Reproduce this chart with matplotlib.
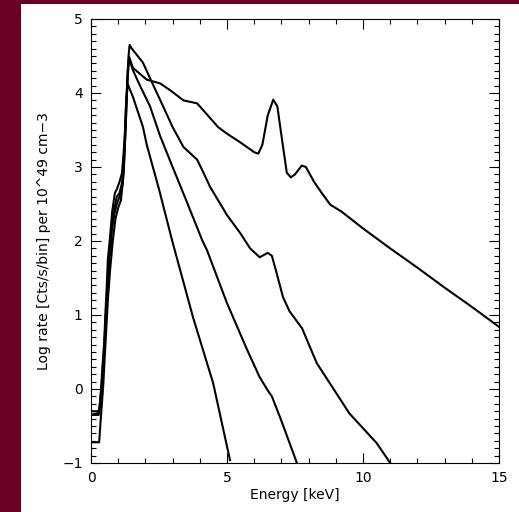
import matplotlib
matplotlib.use("Agg")
import matplotlib.pyplot as plt
from matplotlib.patches import Rectangle
from matplotlib.ticker import MultipleLocator

# ---- data ----
energy_a = [0.0, 0.28, 0.32, 0.38, 0.42, 0.48, 0.52, 0.58, 0.62, 0.7, 0.78, 0.88, 0.95, 1.05, 1.14, 1.2, 1.25, 1.3, 1.35, 1.4,
            1.54, 2.05, 2.54, 2.9, 3.4, 3.9, 4.12, 4.67, 5.0, 5.5, 6.0, 6.15, 6.3, 6.5, 6.7, 6.85, 7.05, 7.2,
            7.35, 7.5, 7.75, 7.9, 8.2, 8.5, 8.8, 9.2, 10.0, 11.0, 12.0, 13.0, 14.0, 15.0]
rate_a = [-0.35, -0.35, -0.25, -0.05, 0.2, 0.55, 0.95, 1.4, 1.75, 2.05, 2.4, 2.65, 2.7, 2.8, 2.92, 3.2, 3.46, 3.9, 4.3, 4.49,
          4.34, 4.18, 4.13, 4.04, 3.9, 3.86, 3.77, 3.54, 3.45, 3.33, 3.2, 3.18, 3.3, 3.7, 3.91, 3.82, 3.3, 2.92,
          2.86, 2.9, 3.02, 3.0, 2.8, 2.64, 2.49, 2.40, 2.17, 1.9, 1.64, 1.37, 1.11, 0.84]

energy_b = [0.0, 0.3, 0.35, 0.42, 0.48, 0.55, 0.6, 0.68, 0.75, 0.85, 0.95, 1.05, 1.15, 1.22, 1.28, 1.33, 1.38, 1.42,
            1.5, 1.91, 2.17, 2.6, 3.0, 3.4, 3.9, 4.1, 4.38, 5.0, 5.5, 5.85, 6.2, 6.5, 6.65, 6.8, 7.06,
            7.3, 7.76, 8.3, 9.5, 10.5, 11.0]
rate_b = [-0.35, -0.32, -0.1, 0.1, 0.45, 0.9, 1.3, 1.75, 2.1, 2.35, 2.5, 2.6, 2.75, 3.1, 3.6, 4.1, 4.5, 4.65,
          4.6, 4.41, 4.2, 3.86, 3.54, 3.27, 3.1, 2.95, 2.73, 2.35, 2.1, 1.9, 1.78, 1.84, 1.8, 1.6, 1.24,
          1.05, 0.82, 0.35, -0.33, -0.73, -1.0]

energy_c = [0.0, 0.3, 0.35, 0.4, 0.45, 0.5, 0.56, 0.62, 0.7, 0.8, 0.9, 1.0, 1.1, 1.2, 1.27, 1.33, 1.4,
            1.55, 1.8, 2.17, 2.54, 3.0, 3.5, 4.1, 4.26, 5.0, 5.74, 6.2, 6.5, 6.65, 7.0, 7.57]
rate_c = [-0.72, -0.72, -0.45, -0.2, 0.05, 0.4, 0.8, 1.2, 1.6, 2.0, 2.3, 2.45, 2.55, 2.9, 3.5, 4.1, 4.47,
          4.3, 4.1, 3.82, 3.42, 3.0, 2.55, 2.0, 1.88, 1.16, 0.53, 0.16, -0.02, -0.1, -0.43, -1.0]

energy_d = [0.0, 0.3, 0.36, 0.42, 0.5, 0.56, 0.62, 0.7, 0.78, 0.86, 0.95, 1.05, 1.15, 1.22, 1.28, 1.35,
            1.54, 1.91, 2.05, 2.5, 2.98, 3.75, 4.49, 5.11]
rate_d = [-0.3, -0.3, -0.05, 0.3, 0.7, 1.1, 1.5, 1.9, 2.2, 2.45, 2.6, 2.65, 2.8, 3.2, 3.8, 4.12,
          3.95, 3.54, 3.3, 2.7, 2.01, 0.97, 0.08, -0.96]

series = [(energy_a, rate_a), (energy_b, rate_b), (energy_c, rate_c), (energy_d, rate_d)]

x_ticks = [0, 5, 10, 15]
y_ticks = [-1, 0, 1, 2, 3, 4, 5]

maroon = "#6b0026"

fig = plt.figure(figsize=(5.19, 5.12), dpi=100, facecolor=maroon)
bg = Rectangle((21 / 519, 0), 1 - 21 / 519, 508 / 512, transform=fig.transFigure,
               facecolor="white", edgecolor="none", zorder=-10)
fig.add_artist(bg)

ax = fig.add_axes([91 / 519, 49 / 512, 408 / 519, 444 / 512])
ax.set_zorder(5)
ax.set_facecolor("white")
for e, r in series:
    ax.plot(e, r, color="black", lw=1.5, solid_joinstyle="round")

ax.set_xlim(0, 15)
ax.set_ylim(-1, 5)
ax.set_xticks(x_ticks)
ax.set_yticks(y_ticks)
ax.set_yticklabels(["\u22121" if v == -1 else str(v) for v in y_ticks])
ax.xaxis.set_minor_locator(MultipleLocator(1))
ax.yaxis.set_minor_locator(MultipleLocator(0.1))
ax.tick_params(which="both", direction="in", top=True, right=True, labelsize=10, colors="black")
ax.tick_params(which="major", length=7, width=0.8, pad=6)
ax.tick_params(which="minor", length=3.5, width=0.8)
for s in ax.spines.values():
    s.set_linewidth(0.8)

ax.set_xlabel("Energy [keV]", fontsize=10, labelpad=2)
ax.set_ylabel("Log rate [Cts/s/bin] per 10^49 cm\u22123", fontsize=10, labelpad=8)

fig.savefig("out.png", dpi=100, facecolor=maroon)
